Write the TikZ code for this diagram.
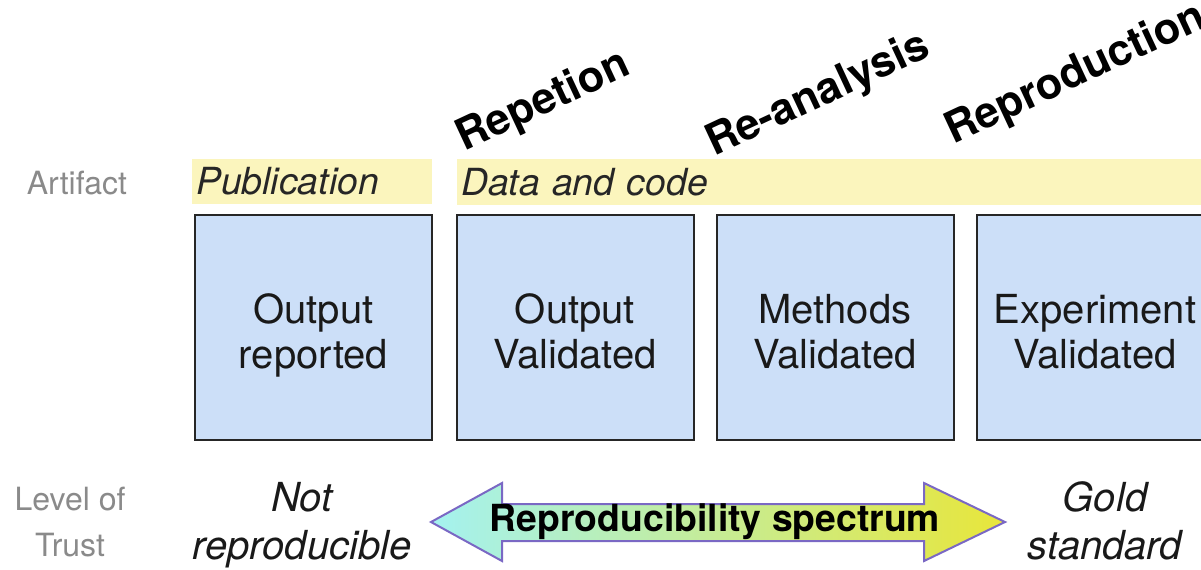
\documentclass[tikz,border=0pt]{standalone}
\usepackage{fontspec}
\setmainfont{TeX Gyre Heros}
\usetikzlibrary{positioning}
\definecolor{boxblue}{HTML}{CCDFF8}
\definecolor{barYellow}{HTML}{FBF5BD}
\definecolor{labelGray}{HTML}{8A8A8A}
\definecolor{arrowCyan}{HTML}{A4F2F0}
\definecolor{arrowMid}{HTML}{CDEFB4}
\definecolor{arrowYellow}{HTML}{E8E63A}
\definecolor{arrowEdge}{HTML}{7A68C4}
\tikzset{
  stagebox/.style={draw=black!85, line width=1.5pt, fill=boxblue,
    minimum width=177.75pt, minimum height=168.75pt, inner sep=0pt,
    text height=62pt, text depth=0pt,
    align=center, font=\fontsize{30}{34}\selectfont, text=black!90},
  artbar/.style={fill=barYellow, inner sep=0pt, minimum height=33.75pt,
    font=\fontsize{28}{30}\selectfont\itshape, text=black!85},
  sidelabel/.style={align=center, text=labelGray, font=\fontsize{24}{34}\selectfont},
  trustlabel/.style={align=center, text=black!90, text height=56pt, text depth=0pt,
    font=\fontsize{30}{36}\selectfont\itshape},
  kindlabel/.style={anchor=base west, rotate=25, inner sep=0pt,
    font=\fontsize{32.5}{36}\selectfont\bfseries}
}
\begin{document}
\begin{tikzpicture}[x=0.75pt, y=-0.75pt]
\useasboundingbox (0,0) rectangle (1201,569);
\clip (0,0) rectangle (1201,569);

% row labels
\node[sidelabel] (artifact) at (77,183) {Artifact};
\node[sidelabel] (trust) at (70,522) {Level of\\Trust};

% artifact bars
\node[artbar, minimum width=180pt, anchor=west, text width=174pt, align=left]
  (pub) at (192,181.5) {Publication};
\node[artbar, minimum width=580pt, anchor=west, text width=574pt, align=left, minimum height=34.5pt]
  (data) at (457,182) {Data and code};

% stages
\node[stagebox] (s1) at (313.5,327.5) {Output\\reported};
\node[stagebox] (s2) at (575,327.5) {Output\\Validated};
\node[stagebox] (s3) at (835,327.5) {Methods\\Validated};
\node[stagebox] (s4) at (1095,327.5) {Experiment\\Validated};

% kinds of reproduction
\node[kindlabel] (rep) at (464,152) {Repetion};
\node[kindlabel] (rea) at (714,157) {Re-analysis};
\node[kindlabel] (repro) at (953,145) {Reproduction};

% trust levels
\node[trustlabel] (low) at (302,522) {Not\\reproducible};
\node[trustlabel] (gold) at (1105,522) {Gold\\standard};

% spectrum arrow
\coordinate (ltip) at (431,522);
\coordinate (rtip) at (1005,522);
\shade[left color=arrowCyan, middle color=arrowMid, right color=arrowYellow]
  (ltip) -- (502,483) -- (502,504) -- (924,504) -- (924,483) -- (rtip)
  -- (924,561) -- (924,541) -- (502,541) -- (502,561) -- cycle;
\draw[arrowEdge, line width=1.5pt, line join=miter]
  (ltip) -- (502,483) -- (502,504) -- (924,504) -- (924,483) -- (rtip)
  -- (924,561) -- (924,541) -- (502,541) -- (502,561) -- cycle;
\node[font=\fontsize{28}{30}\selectfont\bfseries] (spec) at (715,522) {Reproducibility spectrum};
\end{tikzpicture}
\end{document}
